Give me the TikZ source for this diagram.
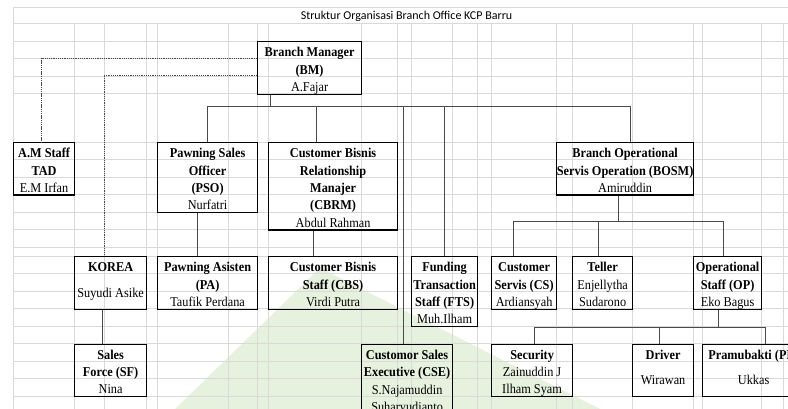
\documentclass[tikz,border=0pt]{standalone}
\usepackage{fontspec}
\setmainfont{Liberation Serif}[FakeStretch=0.91]
\newfontfamily\titlefont{Carlito}
\newcommand\lnb[1]{\raisebox{0pt}[14.9pt][2.5pt]{\bfseries #1}}
\newcommand\lnr[1]{\raisebox{0pt}[14.9pt][2.5pt]{#1}}
\newcommand\lnm[1]{\raisebox{0pt}[23.3pt][11.5pt]{#1}}
\newcommand\stk[1]{\vbox{\baselineskip0pt\lineskip0pt\lineskiplimit0pt\halign{\hfil##\hfil\cr#1\crcr}}}
\definecolor{gridc}{HTML}{D9D9D9}
\definecolor{connc}{HTML}{4A4A4A}
\definecolor{wmark}{HTML}{E6F1DE}
\tikzset{
  box/.style={draw=black,line width=1.2pt,inner sep=0pt,anchor=north west},
  txt/.style={inner sep=0pt,anchor=center,font=\fontsize{13.5pt}{0pt}\selectfont},
  conn/.style={draw=connc,line width=0.9pt},
  dsh/.style={draw=connc,line width=0.9pt,dash pattern=on 1.3pt off 0.9pt},
  gridl/.style={draw=gridc,line width=0.8pt}
}
\newcommand\orgbox[6]{%
  \node[box,minimum width=#4pt,minimum height=#5pt,
    path picture={\node[txt] (#1-t) at (path picture bounding box.center) {\stk{#6}};}] (#1) at (#2,#3) {};}
\begin{document}
\begin{tikzpicture}[x=1pt,y=-1pt]
\useasboundingbox (0,0) rectangle (788,409);
\clip (0,0) rectangle (788,409);
\fill[white] (0,0) rectangle (788,409);
% watermark
\fill[wmark] (175,409) -- (320,268) -- (600,409) -- cycle;
% grid
\draw[gridl] (13,7) -- (788,7);
\foreach \y in {23,41,58.5,76,93.5,142,159.5,177,194.5,212,229.5,247,256,273.5,291,308.5,326,343.5,361,378.5,396}
  \draw[gridl] (13,\y) -- (788,\y);
\draw[gridl] (13,7) -- (13,409);
\foreach \x in {74,104,146,157,228,257,268,361,397,411,452,477,491,556,572,632,693,702,761,783}
  \draw[gridl] (\x,23) -- (\x,409);
% title
\node[font=\titlefont\fontsize{12pt}{14pt}\selectfont,anchor=base,inner sep=0pt] (title) at (406.5,19.3) {Struktur Organisasi Branch Office KCP Barru};
% boxes
\orgbox{bm}{257}{41}{104}{53}{\lnb{Branch Manager}\cr\lnb{(BM)}\cr\lnr{A.Fajar}}
\orgbox{am}{13}{142}{61}{52.5}{\lnb{A.M Staff}\cr\lnb{TAD}\cr\lnr{E.M Irfan}}
\orgbox{pso}{157}{142}{100}{70}{\lnb{Pawning Sales}\cr\lnb{Officer}\cr\lnb{(PSO)}\cr\lnr{Nurfatri}}
\orgbox{cbrm}{268}{142}{129}{87.5}{\lnb{Customer Bisnis}\cr\lnb{Relationship}\cr\lnb{Manajer}\cr\lnb{(CBRM)}\cr\lnr{Abdul Rahman}}
\orgbox{bosm}{556}{142}{137}{52.5}{\lnb{Branch Operational}\cr\lnb{Servis Operation (BOSM)}\cr\lnr{Amiruddin}}
\orgbox{korea}{74}{256}{72}{52.5}{\lnb{KOREA}\cr\lnm{Suyudi Asike}}
\orgbox{pa}{157}{256}{100}{52.5}{\lnb{Pawning Asisten}\cr\lnb{(PA)}\cr\lnr{Taufik Perdana}}
\orgbox{cbs}{268}{256}{129}{52.5}{\lnb{Customer Bisnis}\cr\lnb{Staff (CBS)}\cr\lnr{Virdi Putra}}
\orgbox{fts}{411}{256}{66}{70}{\lnb{Funding}\cr\lnb{Transaction}\cr\lnb{Staff (FTS)}\cr\lnr{Muh.Ilham}}
\orgbox{cs}{491}{256}{65}{52.5}{\lnb{Customer}\cr\lnb{Servis (CS)}\cr\lnr{Ardiansyah}}
\orgbox{tel}{572}{256}{60}{52.5}{\lnb{Teller}\cr\lnr{Enjellytha}\cr\lnr{Sudarono}}
\orgbox{op}{693}{256}{68}{52.5}{\lnb{Operational}\cr\lnb{Staff (OP)}\cr\lnr{Eko Bagus}}
\orgbox{sf}{74}{343.5}{72}{52.5}{\lnb{Sales}\cr\lnb{Force (SF)}\cr\lnr{Nina}}
\orgbox{cse}{361}{343.5}{91}{70}{\lnb{Customor Sales}\cr\lnb{Executive (CSE)}\cr\lnr{S.Najamuddin}\cr\lnr{Suharyudianto}}
\orgbox{sec}{491}{343.5}{81}{52.5}{\lnb{Security}\cr\lnr{Zainuddin J}\cr\lnr{Ilham Syam}}
\orgbox{drv}{632}{343.5}{61}{52.5}{\lnb{Driver}\cr\lnm{Wirawan}}
\orgbox{pb}{702}{343.5}{102}{52.5}{\lnb{Pramubakti (PB)}\cr\lnm{Ukkas}}
% junction coordinates
\coordinate (m1) at (270,106);
\coordinate (c1) at (316,106);
\coordinate (c2) at (403,106);
\coordinate (c3) at (630,106);
\coordinate (p1) at (197,212);
\coordinate (q1) at (313,229);
\coordinate (k1) at (102,308);
\coordinate (o1) at (618,221);
\coordinate (o2) at (513,221);
\coordinate (o3) at (598,221);
\coordinate (o4) at (723,221);
\coordinate (r1) at (718,327);
\coordinate (r2) at (534,327);
\coordinate (r3) at (659,327);
\coordinate (r4) at (765,327);
\coordinate (d1) at (41,58.5);
\coordinate (d2) at (104,75);
% connectors
\draw[conn] (bm.south -| m1) -- (m1);
\draw[conn] (pso.north) -- (pso.north |- m1) -- (c3) -- (c3 |- bosm.north);
\draw[conn] (c1) -- (c1 |- cbrm.north);
\draw[conn] (c2) -- (c2 |- cse.north);
\draw[conn] (fts.north |- m1) -- (fts.north);
\draw[conn] (pso.south -| p1) -- (pa.north -| p1);
\draw[conn] (cbrm.south -| q1) -- (cbs.north -| q1);
\draw[conn] (korea.south -| k1) -- (sf.north -| k1);
\draw[conn] (bosm.south -| o1) -- (o1);
\draw[conn] (cs.north -| o2) -- (o2) -- (o4) -- (op.north -| o4);
\draw[conn] (o3) -- (tel.north -| o3);
\draw[conn] (op.south -| r1) -- (r1);
\draw[conn] (sec.north -| r2) -- (r2) -- (r4) -- (pb.north -| r4);
\draw[conn] (r3) -- (drv.north -| r3);
\draw[dsh] (bm.west |- d1) -- (d1) -- (d1 |- am.north);
\draw[dsh] (bm.west |- d2) -- (d2) -- (d2 |- korea.north);
\end{tikzpicture}
\end{document}
